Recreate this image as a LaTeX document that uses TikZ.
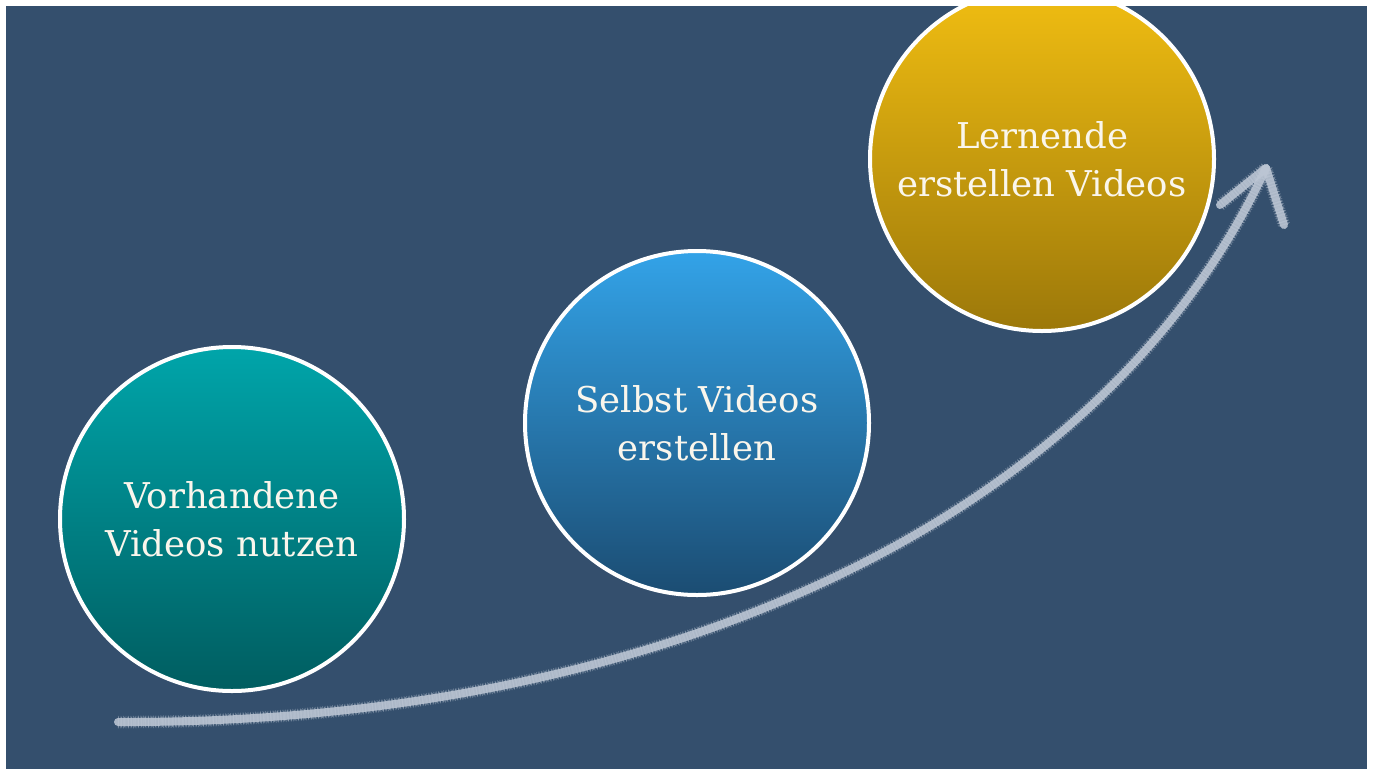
\documentclass[tikz,border=0pt]{standalone}
\usepackage{fontspec}
\setmainfont{DejaVu Serif}
\definecolor{bg}{HTML}{344F6D}
\definecolor{chalk}{HTML}{BCC6D4}
\definecolor{tealT}{HTML}{00A5AA}
\definecolor{tealB}{HTML}{005D60}
\definecolor{blueT}{HTML}{33A3E8}
\definecolor{blueB}{HTML}{1B4C72}
\definecolor{goldT}{HTML}{F1BE12}
\definecolor{goldB}{HTML}{9C780A}
\definecolor{txt}{HTML}{FAF6EC}
\tikzset{
  stage/.style={circle, minimum size=344pt, inner sep=0pt, draw=white, line width=4pt,
    text=txt, align=center, font=\fontsize{35.5}{48}\selectfont},
  chalkline/.style={draw=chalk, line width=8pt, line cap=round, line join=round, opacity=0.88},
  chalkfuzz/.style={draw=chalk, line width=12.5pt, line cap=butt, line join=round, opacity=0.35,
    dash pattern=on 0.9pt off 1.6pt},
  chalkfuzzb/.style={draw=chalk, line width=10.5pt, line cap=butt, line join=round, opacity=0.45,
    dash pattern=on 1.3pt off 2.1pt, dash phase=0.7pt}
}
\begin{document}
\begin{tikzpicture}[x=1pt, y=-1pt]
\useasboundingbox (0,0) rectangle (1375,769);
\fill[white] (0,0) rectangle (1375,769);
\fill[bg] (6,6) rectangle (1367,769);
\begin{scope}
\clip (6,6) rectangle (1367,769);
% chalk arrow
\coordinate (s) at (118,722);
\coordinate (tip) at (1266,168);
\coordinate (hl) at (1220,205);
\coordinate (hr) at (1284,225);
\draw[chalkfuzz] (s) .. controls (650,724) and (1100,525) .. (tip);
\draw[chalkfuzz] (hl) -- (tip) -- (hr);
\draw[chalkfuzzb] (s) .. controls (650,724) and (1100,525) .. (tip);
\draw[chalkfuzzb] (hl) -- (tip) -- (hr);
\draw[chalkline] (s) .. controls (650,724) and (1100,525) .. (tip);
\draw[chalkline] (hl) -- (tip) -- (hr);
% circles
\node[stage, top color=tealT, bottom color=tealB] (c1) at (232,519) {Vorhandene\\Videos nutzen};
\node[stage, top color=blueT, bottom color=blueB] (c2) at (697,423) {Selbst Videos\\erstellen};
\node[stage, top color=goldT, bottom color=goldB] (c3) at (1042,159) {Lernende\\erstellen Videos};
\end{scope}
\end{tikzpicture}
\end{document}
